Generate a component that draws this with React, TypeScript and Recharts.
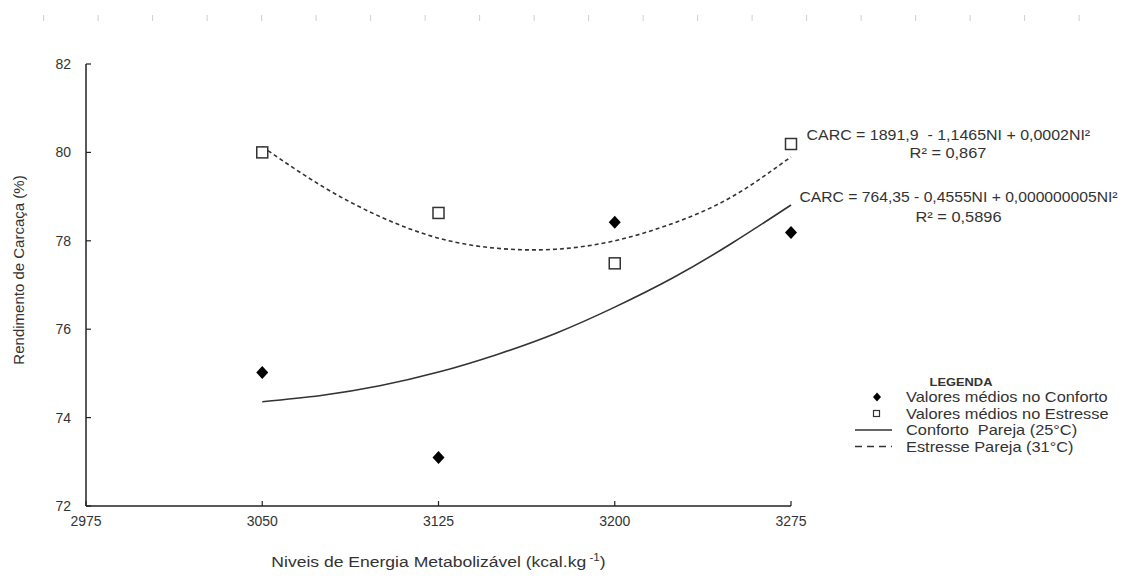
import React from "react";
import {
  ComposedChart,
  Line,
  Scatter,
  XAxis,
  YAxis,
  ReferenceDot,
  Label,
} from "recharts";

// NI levels (kcal/kg) and mean carcass yield (%)
const NI_LEVELS = [3050, 3125, 3200, 3275];
const CONFORTO_MEANS = [75.02, 73.1, 78.42, 78.19];
const ESTRESSE_MEANS = [80.0, 78.63, 77.49, 80.19];

// fitted quadratic curves
const CURVE_NI = [3050, 3075, 3100, 3125, 3150, 3175, 3200, 3225, 3250, 3275];
const CONFORTO_FIT = [74.36, 74.5, 74.72, 75.03, 75.43, 75.91, 76.5, 77.17, 77.95, 78.81];
const ESTRESSE_FIT = [80.13, 79.25, 78.55, 78.06, 77.83, 77.81, 78.0, 78.4, 79.0, 79.9];

const X_TICKS = [2975, 3050, 3125, 3200, 3275];
const Y_TICKS = [72, 74, 76, 78, 80, 82];

const EQ_ESTRESSE = ["CARC = 1891,9  - 1,1465NI + 0,0002NI²", "R² = 0,867"];
const EQ_CONFORTO = ["CARC = 764,35 - 0,4555NI + 0,000000005NI²", "R² = 0,5896"];

const LEGEND_ITEMS = [
  { label: "Valores médios no Conforto", kind: "diamond" },
  { label: "Valores médios no Estresse", kind: "square" },
  { label: "Conforto  Pareja (25°C)", kind: "solid" },
  { label: "Estresse Pareja (31°C)", kind: "dashed" },
];

const FONT = "'Liberation Sans', Arial, sans-serif";
const INK = "#333";
const STRETCH = 1.17; // the source text is a bit wider than Arial
const TICK_STYLE = { fill: INK, fontSize: 14, fontFamily: FONT };

const confortoPoints = NI_LEVELS.map((x, i) => ({ x, y: CONFORTO_MEANS[i] }));
const estressePoints = NI_LEVELS.map((x, i) => ({ x, y: ESTRESSE_MEANS[i] }));
const confortoCurve = CURVE_NI.map((x, i) => ({ x, y: CONFORTO_FIT[i] }));
const estresseCurve = CURVE_NI.map((x, i) => ({ x, y: ESTRESSE_FIT[i] }));

function WideText({ x, y, anchor = "start", size = 14, weight = "normal", stretch = STRETCH, children }: any) {
  return (
    <text
      transform={`translate(${x},${y}) scale(${stretch},1)`}
      textAnchor={anchor}
      fontFamily={FONT}
      fontSize={size}
      fontWeight={weight}
      fill={INK}
      style={{ whiteSpace: "pre" }}
    >
      {children}
    </text>
  );
}

function Diamond({ cx, cy }: any) {
  return (
    <path
      d={`M${cx},${cy - 6.5}L${cx + 6},${cy}L${cx},${cy + 6.5}L${cx - 6},${cy}Z`}
      fill="#000"
    />
  );
}

function OpenSquare({ cx, cy }: any) {
  return (
    <rect
      x={cx - 5.5}
      y={cy - 5.5}
      width={11}
      height={11}
      fill="#fff"
      stroke={INK}
      strokeWidth={1.5}
    />
  );
}

function EquationLabel({ viewBox, lines, dx, dy, dx2, dy2, stretch }: any) {
  const cx = viewBox.x + (viewBox.width || 0) / 2;
  const cy = viewBox.y + (viewBox.height || 0) / 2;
  return (
    <g>
      <WideText x={cx + dx} y={cy + dy} stretch={stretch}>
        {lines[0]}
      </WideText>
      <WideText x={cx + dx2} y={cy + dy2} anchor="middle">
        {lines[1]}
      </WideText>
    </g>
  );
}

function LegendBox() {
  return (
    <svg
      width={290}
      height={90}
      style={{ position: "absolute", left: 845, top: 366, display: "block" }}
    >
      <WideText x={116} y={20} anchor="middle" size={11} weight="bold">
        LEGENDA
      </WideText>
      {LEGEND_ITEMS.map((item, i) => {
        const y = 31 + i * 16.5;
        return (
          <g key={item.label}>
            {item.kind === "diamond" && (
              <path d={`M32,${y - 4.5}L36,${y}L32,${y + 4.5}L28,${y}Z`} fill="#000" />
            )}
            {item.kind === "square" && (
              <rect x={28.5} y={y - 3} width={6} height={6} fill="#fff" stroke={INK} strokeWidth={1.2} />
            )}
            {item.kind === "solid" && (
              <line x1={10} x2={47} y1={y} y2={y} stroke={INK} strokeWidth={1.5} />
            )}
            {item.kind === "dashed" && (
              <line x1={10} x2={47} y1={y} y2={y} stroke={INK} strokeWidth={1.5} strokeDasharray="7 5" />
            )}
            <WideText x={61} y={y + 5}>
              {item.label}
            </WideText>
          </g>
        );
      })}
    </svg>
  );
}

function XTitle({ viewBox }: any) {
  const cx = viewBox.x + viewBox.width / 2;
  return (
    <WideText x={cx} y={567} anchor="middle" size={15}>
      Niveis de Energia Metabolizável (kcal.kg
      <tspan fontSize={10} dy={-6}> -1</tspan>
      <tspan dy={6}>)</tspan>
    </WideText>
  );
}

function YTitle({ viewBox }: any) {
  const cy = viewBox.y + viewBox.height / 2 - 15;
  return (
    <text
      x={24}
      y={cy}
      transform={`rotate(-90, 24, ${cy})`}
      textAnchor="middle"
      fontFamily={FONT}
      fontSize={15}
      fill={INK}
    >
      Rendimento de Carcaça (%)
    </text>
  );
}

const RULER = Array.from({ length: 20 }, (_, i) => i);

export default function App() {
  return (
    <div
      style={{
        position: "absolute",
        left: 0,
        top: 0,
        width: 1129,
        height: 579,
        background: "#fff",
      }}
    >
      <svg width={1129} height={30} style={{ position: "absolute", left: 0, top: 0 }}>
        {RULER.map((i) => (
          <line
            key={i}
            x1={43.6 + i * 54.5}
            x2={43.6 + i * 54.5}
            y1={15}
            y2={21}
            stroke="#cfcfcf"
            strokeWidth={1}
          />
        ))}
      </svg>
      <ComposedChart
        width={1129}
        height={579}
        margin={{ top: 64, right: 338, bottom: 33, left: 26 }}
      >
        <XAxis
          type="number"
          dataKey="x"
          domain={[2975, 3275]}
          ticks={X_TICKS}
          interval={0}
          height={40}
          tickSize={-5}
          tickMargin={15}
          tick={TICK_STYLE}
          axisLine={{ stroke: "#222", strokeWidth: 1.5 }}
          tickLine={{ stroke: "#222", strokeWidth: 1.2 }}
        >
          <Label content={<XTitle />} />
        </XAxis>
        <YAxis
          type="number"
          dataKey="y"
          domain={[72, 82]}
          ticks={Y_TICKS}
          interval={0}
          width={60}
          tickSize={-5}
          tickMargin={20}
          tick={TICK_STYLE}
          axisLine={{ stroke: "#222", strokeWidth: 1.5 }}
          tickLine={{ stroke: "#222", strokeWidth: 1.2 }}
        >
          <Label content={<YTitle />} />
        </YAxis>
        <Line
          data={estresseCurve}
          dataKey="y"
          type="natural"
          stroke={INK}
          strokeWidth={1.6}
          strokeDasharray="4 3"
          dot={false}
          activeDot={false}
          isAnimationActive={false}
        />
        <Line
          data={confortoCurve}
          dataKey="y"
          type="natural"
          stroke={INK}
          strokeWidth={1.6}
          dot={false}
          activeDot={false}
          isAnimationActive={false}
        />
        <Scatter
          data={confortoPoints}
          dataKey="y"
          shape={<Diamond />}
          isAnimationActive={false}
        />
        <Scatter
          data={estressePoints}
          dataKey="y"
          shape={<OpenSquare />}
          isAnimationActive={false}
        />
        <ReferenceDot
          x={3275}
          y={ESTRESSE_MEANS[ESTRESSE_MEANS.length - 1]}
          r={0}
          fill="none"
          stroke="none"
          label={<EquationLabel lines={EQ_ESTRESSE} dx={15.5} dy={-4} dx2={157} dy2={14} stretch={1.14} />}
        />
        <ReferenceDot
          x={3275}
          y={CONFORTO_FIT[CONFORTO_FIT.length - 1]}
          r={0}
          fill="none"
          stroke="none"
          label={
            <EquationLabel
              lines={EQ_CONFORTO}
              dx={8.5}
              dy={-3}
              dx2={167.5}
              dy2={17}
              stretch={1.12}
            />
          }
        />
      </ComposedChart>
      <LegendBox />
    </div>
  );
}
